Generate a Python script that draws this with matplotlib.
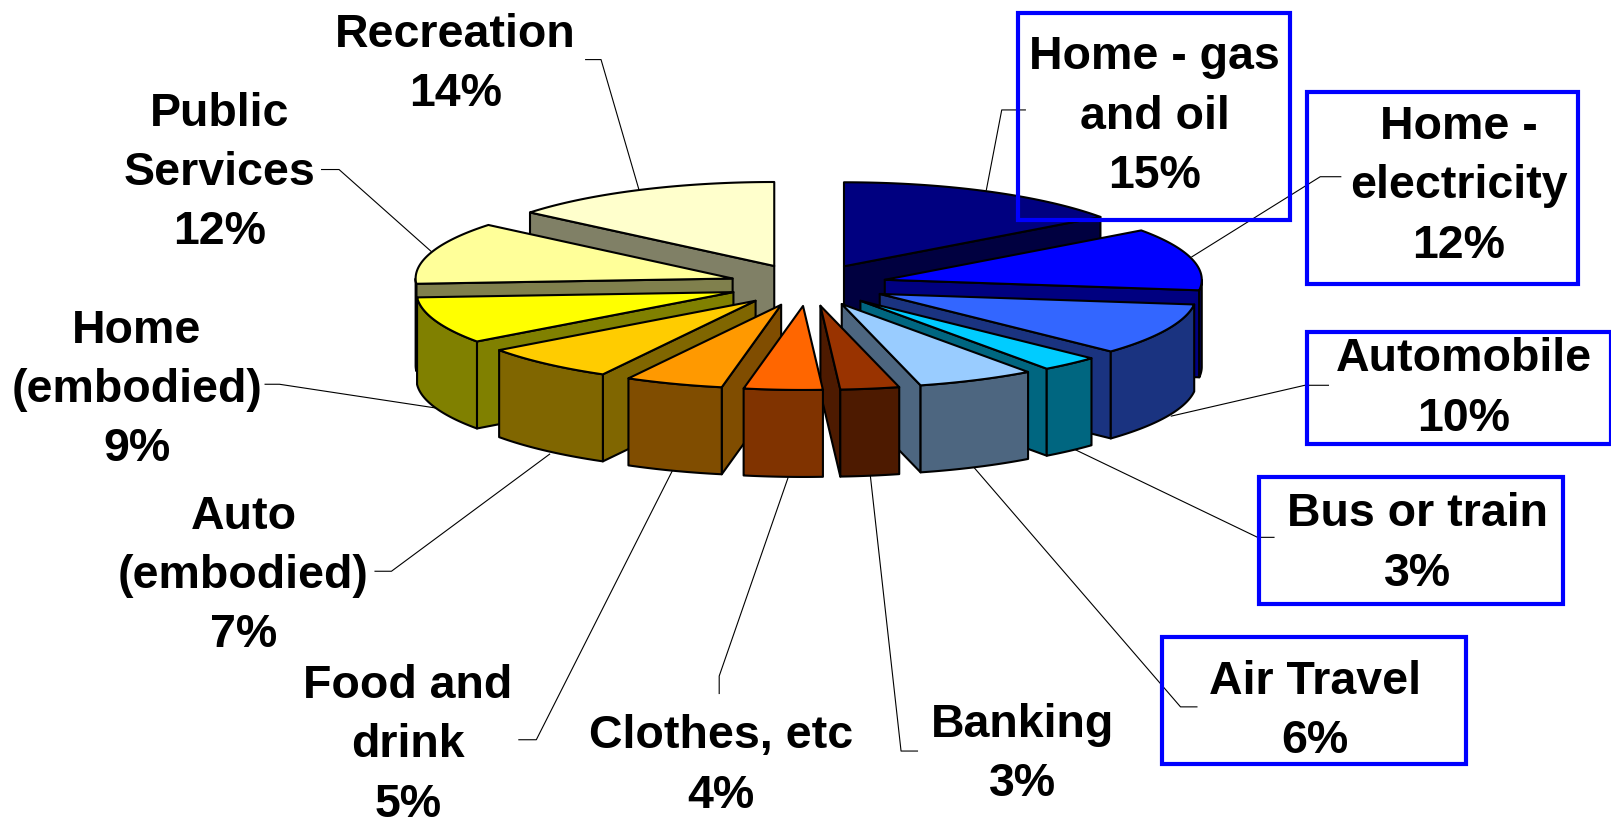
import numpy as np
import matplotlib
matplotlib.use("Agg")
import matplotlib.pyplot as plt
from matplotlib.colors import to_rgb
from matplotlib.patches import Polygon, Rectangle

# ---- data ----
labels = ["Home - gas\nand oil", "Home -\nelectricity", "Automobile", "Bus or train",
          "Air Travel", "Banking", "Clothes, etc", "Food and\ndrink",
          "Auto\n(embodied)", "Home\n(embodied)", "Public\nServices", "Recreation"]
values = [15, 12, 10, 3, 6, 3, 4, 5, 7, 9, 12, 14]
colors = ["#000080", "#0000FF", "#3366FF", "#00CCFF", "#99CCFF", "#993300",
          "#FF6600", "#FF9900", "#FFCC00", "#FFFF00", "#FFFF99", "#FFFFCC"]

# ---- layout (pixels of the 1611x821 canvas) ----
W, H = 1611, 821
CX, CY, RX, RY, DEPTH, EXPLODE = 808, 285, 317, 84, 87, 0.25
S = 1611 / 1568
label_xy = [(1124, 110), (1420, 178), (1425, 375), (1380, 526), (1280, 689), (995, 731),
            (702, 742), (397, 722), (237, 557), (133, 376), (214, 165), (443, 59)]
boxes = [(991, 13, 1256, 214), (1272, 90, 1536, 276), (1272, 323, 1568, 432),
         (1225, 464, 1521, 588), (1131, 620, 1427, 744)]
leaders = [[(998, 107), (975, 107), (960, 185)],
           [(1305, 172), (1285, 172), (1160, 250)],
           [(1293, 375), (1270, 375), (1140, 405)],
           [(1240, 523), (1224, 523), (1043, 436)],
           [(1165, 688), (1149, 688), (948, 455)],
           [(893, 731), (877, 731), (847, 462)],
           [(700, 675), (700, 658), (767, 465)],
           [(505, 720), (522, 720), (655, 457)],
           [(365, 556), (381, 556), (535, 442)],
           [(258, 374), (272, 374), (430, 398)],
           [(313, 165), (330, 165), (420, 245)],
           [(570, 58), (585, 58), (622, 185)]]

fig = plt.figure(figsize=(W / 100, H / 100), dpi=100)
ax = fig.add_axes([0, 0, 1, 1])
ax.set_xlim(0, W)
ax.set_ylim(H, 0)
ax.axis("off")

fractions = np.array(values, dtype=float) / sum(values)
edges = np.concatenate([[0], np.cumsum(fractions)]) * 2 * np.pi
mids = (edges[:-1] + edges[1:]) / 2
LW = 1.5


def rim(ox, oy, a):
    return np.column_stack([ox + RX * np.sin(a), oy - RY * np.cos(a)])


def face(pts, fc, z):
    ax.add_patch(Polygon(pts, closed=True, facecolor=fc, edgecolor="black",
                         linewidth=LW, joinstyle="round", zorder=z))


order = sorted(range(len(values)), key=lambda i: -np.cos(mids[i]))
z = 2.0
for i in order:
    a0, a1, m = edges[i], edges[i + 1], mids[i]
    ox = CX + EXPLODE * RX * np.sin(m)
    oy = CY - EXPLODE * RY * np.cos(m)
    top = np.array(to_rgb(colors[i]))
    side = tuple(top * 0.5)
    down = np.array([0, DEPTH])
    apex = np.array([ox, oy])
    # radial walls that face the viewer
    for a, vis in ((a1, np.sin(a1) > 0), (a0, np.sin(a0) < 0)):
        if vis:
            p = rim(ox, oy, np.array([a]))[0]
            face([apex, p, p + down, apex + down], side, z)
            z += 0.001
    # outer curved wall
    lo, hi = max(a0, np.pi / 2), min(a1, 3 * np.pi / 2)
    if hi > lo:
        arc = rim(ox, oy, np.linspace(lo, hi, 60))
        face(np.vstack([arc, arc[::-1] + down]), side, z)
        z += 0.001
    # top face
    arc = rim(ox, oy, np.linspace(a0, a1, 100))
    face(np.vstack([apex, arc]), tuple(top), z)
    z += 0.001

# box frames
for x0, y0, x1, y1 in boxes:
    ax.add_patch(Rectangle((x0 * S, y0 * S), (x1 - x0) * S, (y1 - y0) * S, fill=False,
                           edgecolor="#0000FF", linewidth=3.0, zorder=5))

# leader lines
for path in leaders:
    xs, ys = zip(*path)
    ax.plot(np.array(xs) * S, np.array(ys) * S, color="black", lw=0.8, zorder=1)

# labels
for lab, v, (x, y) in zip(labels, values, label_xy):
    ax.text(x * S, (y + 3.5) * S, f"{lab}\n{v}%", ha="center", va="center", multialignment="center",
            family="Liberation Sans", weight="bold", fontsize=33.5, linespacing=1.45,
            color="black", zorder=6)

fig.savefig("out.png", dpi=100, facecolor="white")
